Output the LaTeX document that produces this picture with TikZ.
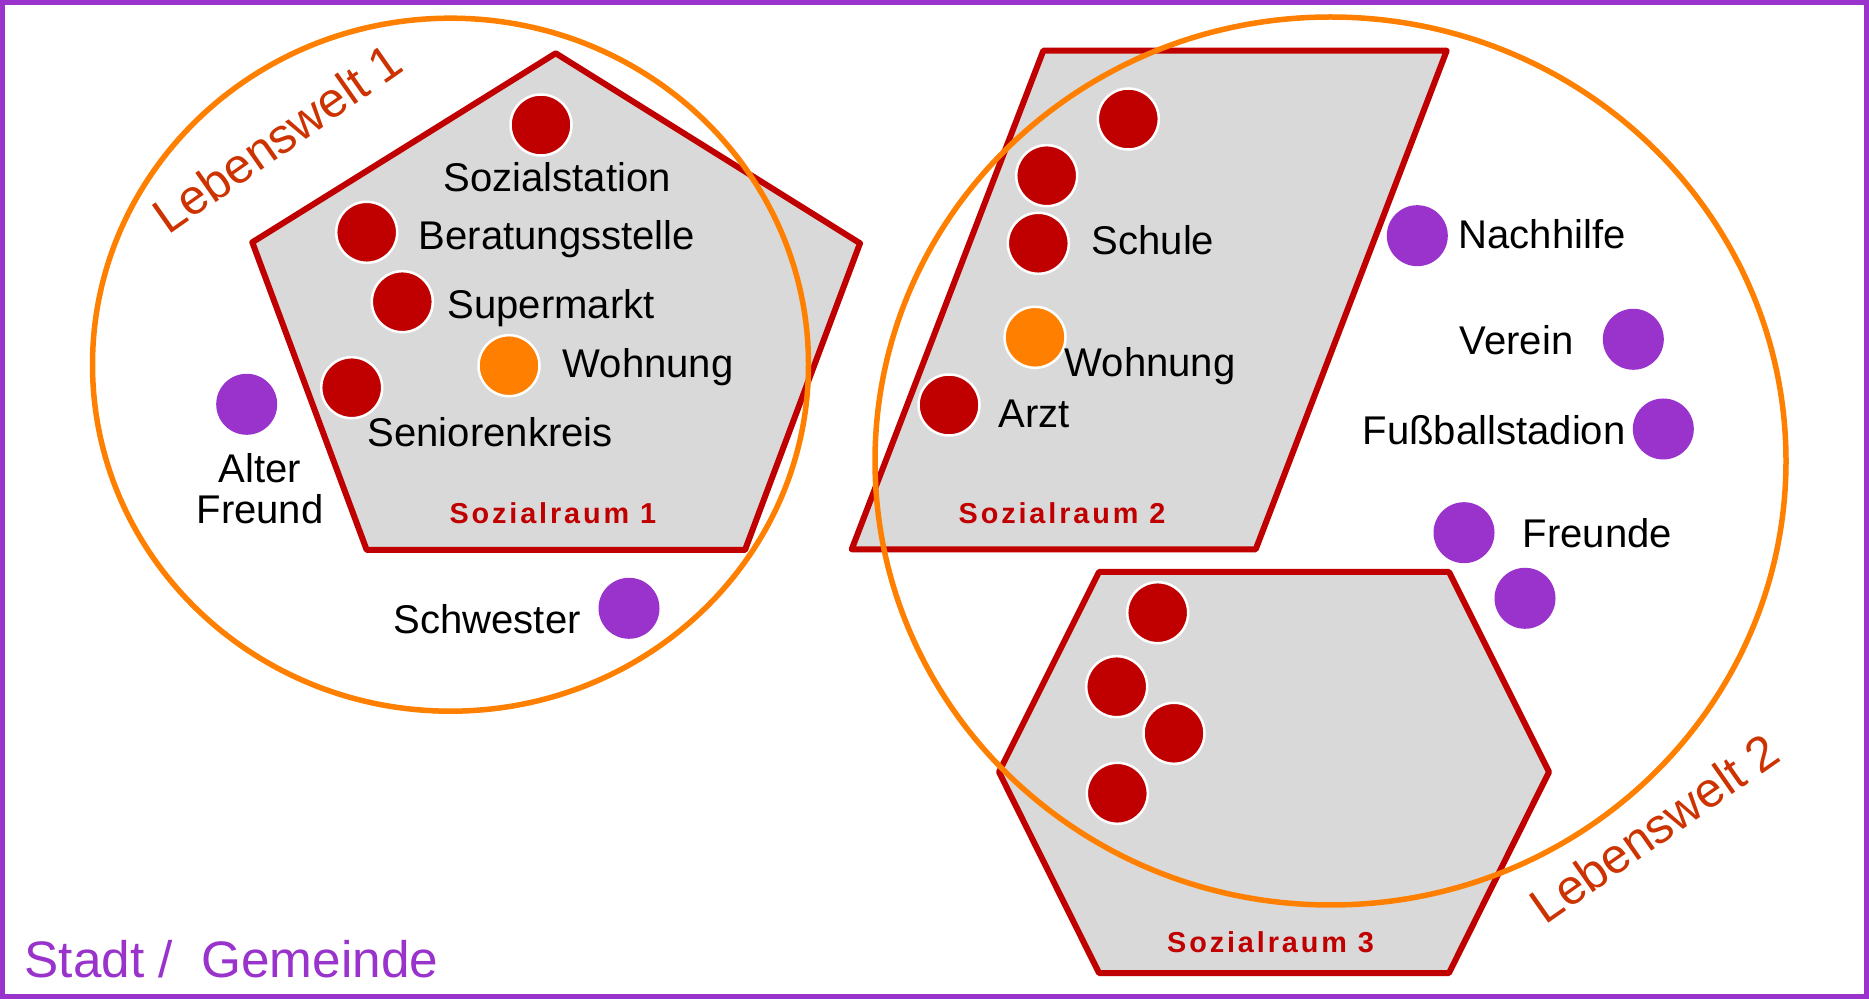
\documentclass[tikz,border=0pt]{standalone}
\usepackage{fontspec}
\setmainfont{Liberation Sans}
\definecolor{stadtlila}{RGB}{153,51,204}
\definecolor{raumrot}{RGB}{192,0,0}
\definecolor{weltorange}{RGB}{255,128,0}
\definecolor{weltschrift}{RGB}{204,51,0}
\definecolor{raumgrau}{RGB}{217,217,217}
\tikzset{
  raum/.style={draw=raumrot,fill=raumgrau,line width=0.6mm,line join=round},
  welt/.style={draw=weltorange,line width=0.55mm},
  ort/.style={circle,fill=raumrot,draw=white,line width=0.25mm,inner sep=0pt,minimum size=6.1mm},
  heim/.style={ort,fill=weltorange},
  kontakt/.style={circle,fill=stadtlila,inner sep=0pt,minimum size=6.1mm},
  lbl/.style={inner sep=0pt,anchor=base west,font=\fontsize{11.4}{11.7}\selectfont},
  raumlbl/.style={inner sep=0pt,anchor=base,text=raumrot,font=\fontsize{8.2}{9}\selectfont\bfseries\addfontfeature{LetterSpace=10}},
  weltlbl/.style={inner sep=0pt,anchor=base west,rotate=35,text=weltschrift,font=\fontsize{14}{16}\selectfont}
}
\begin{document}
\begin{tikzpicture}[x=0.1mm,y=-0.1mm]
    \useasboundingbox (0,0) rectangle (1869,999);
    \fill[white] (0,0) rectangle (1869,999);
    % Sozialraeume
    \draw[raum] (555.7,53.3) -- (860,243.3) -- (745,550) -- (366.7,550) -- (252.3,242.3) -- cycle;
    \draw[raum] (1043.3,50.7) -- (1446.7,50.7) -- (1255.7,549.3) -- (851.7,549.3) -- cycle;
    \draw[raum] (1099,572) -- (1449,572) -- (1549,772) -- (1449,973) -- (1099,973) -- (999,772) -- cycle;
    % Lebenswelten
    \draw[welt] (450.5,364.7) ellipse [x radius=35.8mm, y radius=34.65mm];
    \draw[welt] (1330.5,461) ellipse [x radius=45.55mm, y radius=44.4mm];

    \node[ort] (station) at (541,125) {};
    \node[ort] (beratung) at (366.7,232.3) {};
    \node[ort] (markt) at (402.3,301.7) {};
    \node[ort] (senioren) at (351.7,387.7) {};
    \node[heim] (wohnungA) at (509,365.7) {};
    \node[kontakt] (freund) at (246.7,404.3) {};
    \node[kontakt] (schwester) at (629,608.3) {};

    \node[ort] (p1) at (1128.3,119) {};
    \node[ort] (p2) at (1046.7,175.7) {};
    \node[ort] (schule) at (1038.3,243.3) {};
    \node[heim] (wohnungB) at (1035,337.3) {};
    \node[ort] (arzt) at (949,405) {};

    \node[kontakt] (nachhilfe) at (1417.3,235.7) {};
    \node[kontakt] (verein) at (1633.3,339.3) {};
    \node[kontakt] (stadion) at (1663.3,429) {};
    \node[kontakt] (freundeA) at (1464,532.7) {};
    \node[kontakt] (freundeB) at (1525,598.3) {};

    \node[ort] (h1) at (1157.7,612.7) {};
    \node[ort] (h2) at (1116.7,686.7) {};
    \node[ort] (h3) at (1174,733.3) {};
    \node[ort] (h4) at (1117.3,793.3) {};

    % Beschriftungen
    \node[lbl] (tstation) at (443,191.7) {Sozialstation};
    \node[lbl] (tberatung) at (418,249.3) {Beratungsstelle};
    \node[lbl] (tmarkt) at (447,318.3) {Supermarkt};
    \node[lbl] (twohnungA) at (562,377.3) {Wohnung};
    \node[lbl] (tsenioren) at (367,446.7) {Seniorenkreis};
    \node[lbl,anchor=south,align=center] (tfreund) at (260,525) {Alter\\Freund};
    \node[lbl] (tschwester) at (393,633.3) {Schwester};
    \node[lbl] (tschule) at (1091,255) {Schule};
    \node[lbl] (twohnungB) at (1064,376.7) {Wohnung};
    \node[lbl] (tarzt) at (998,427.7) {Arzt};
    \node[lbl] (tnachhilfe) at (1458,248.3) {Nachhilfe};
    \node[lbl] (tverein) at (1459,355) {Verein};
    \node[lbl] (tstadion) at (1362,445) {Fußballstadion};
    \node[lbl] (tfreunde) at (1522,547.7) {Freunde};

    \node[raumlbl] (raum1) at (552.8,523.3) {Sozialraum 1};
    \node[raumlbl] (raum2) at (1062,523.3) {Sozialraum 2};
    \node[raumlbl] (raum3) at (1270.5,952.7) {Sozialraum 3};

    \node[weltlbl] (welt1) at (168,236) {Lebenswelt 1};
    \node[weltlbl] (welt2) at (1545,926) {Lebenswelt 2};

    \node[inner sep=0pt,anchor=base west,text=stadtlila,font=\fontsize{14.6}{16}\selectfont] (stadt) at (24,977.3) {Stadt /\ \ Gemeinde};
    \draw[stadtlila,line width=0.5mm] (2.5,2.5) rectangle (1866.5,996.5);
\end{tikzpicture}
\end{document}
